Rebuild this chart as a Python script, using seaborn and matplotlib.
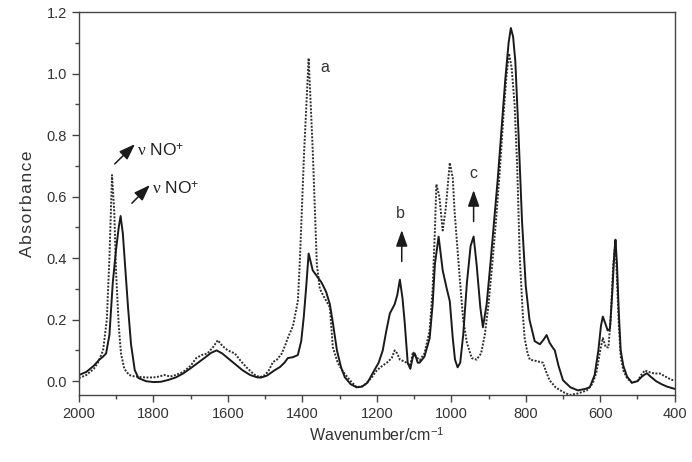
import numpy as np
import pandas as pd
import matplotlib
matplotlib.use("Agg")
import matplotlib.pyplot as plt
from matplotlib.ticker import MultipleLocator
import seaborn as sns

sns.set_style("ticks")
plt.rcParams['font.family'] = ['Liberation Sans', 'DejaVu Sans']
plt.rcParams['mathtext.fontset'] = 'custom'
plt.rcParams['mathtext.rm'] = 'Liberation Sans'
plt.rcParams['mathtext.it'] = 'Liberation Serif'

# solid spectrum (wavenumber, absorbance)
solid_wn = [2000, 1980, 1960, 1945, 1935, 1927, 1918, 1909, 1900, 1893, 1888, 1882,
            1875, 1868, 1860, 1850, 1840, 1820, 1800, 1780, 1760, 1740, 1720, 1700,
            1680, 1660, 1645, 1630, 1615, 1600, 1580, 1560, 1540, 1520, 1510, 1495,
            1475, 1460, 1448, 1439, 1425, 1412, 1403, 1396, 1390, 1383, 1372, 1360,
            1348, 1336, 1326, 1318, 1307, 1296, 1286, 1270, 1254, 1240, 1225, 1211,
            1195, 1184, 1175, 1165, 1152, 1145, 1138, 1131, 1125, 1117, 1110, 1103,
            1098, 1090, 1085, 1072, 1058, 1050, 1044, 1034, 1023, 1012, 1004, 996,
            990, 983, 976, 968, 958, 948, 940, 932, 922, 915, 905, 895, 885, 875,
            865, 855, 846, 840, 834, 828, 820, 810, 800, 790, 776, 762, 752, 744,
            736, 728, 722, 712, 700, 680, 660, 640, 628, 615, 605, 598, 593, 587,
            580, 574, 568, 562, 559, 555, 550, 545, 538, 528, 515, 500, 488, 475,
            465, 450, 435, 420, 400]
solid_abs = [0.02, 0.03, 0.05, 0.07, 0.08, 0.09, 0.15, 0.32, 0.43, 0.50, 0.537, 0.48,
             0.36, 0.24, 0.12, 0.036, 0.01, 0.0, -0.003, -0.002, 0.004, 0.012, 0.025, 0.042,
             0.06, 0.078, 0.092, 0.10, 0.09, 0.075, 0.055, 0.035, 0.02, 0.012, 0.012, 0.018,
             0.035, 0.046, 0.06, 0.075, 0.078, 0.085, 0.13, 0.21, 0.3, 0.415, 0.36, 0.34,
             0.32, 0.29, 0.25, 0.19, 0.10, 0.045, 0.013, -0.01, -0.02, -0.018, -0.005, 0.026,
             0.06, 0.10, 0.16, 0.22, 0.25, 0.28, 0.33, 0.27, 0.19, 0.06, 0.04, 0.08,
             0.09, 0.06, 0.06, 0.08, 0.14, 0.25, 0.38, 0.47, 0.36, 0.30, 0.26, 0.14,
             0.07, 0.045, 0.06, 0.15, 0.32, 0.44, 0.47, 0.38, 0.24, 0.175, 0.25, 0.38,
             0.52, 0.66, 0.82, 0.98, 1.10, 1.148, 1.12, 1.04, 0.82, 0.52, 0.31, 0.2,
             0.13, 0.12, 0.135, 0.15, 0.125, 0.11, 0.1, 0.05, 0.003, -0.02, -0.03, -0.025,
             -0.02, 0.02, 0.1, 0.18, 0.21, 0.19, 0.165, 0.17, 0.28, 0.42, 0.46, 0.38,
             0.22, 0.1, 0.05, 0.015, -0.005, 0.0, 0.015, 0.026, 0.015, 0.0, -0.01, -0.018,
             -0.025]

# dotted spectrum
dot_wn = [2000, 1980, 1960, 1949, 1935, 1925, 1918, 1911, 1905, 1900, 1893, 1887,
          1878, 1865, 1850, 1820, 1800, 1785, 1770, 1755, 1740, 1720, 1700, 1685,
          1670, 1655, 1640, 1627, 1615, 1600, 1581, 1565, 1550, 1530, 1514, 1500,
          1490, 1479, 1468, 1455, 1445, 1439, 1425, 1412, 1407, 1395, 1383, 1372,
          1361, 1353, 1340, 1326, 1318, 1305, 1290, 1270, 1254, 1235, 1215, 1200,
          1185, 1173, 1160, 1152, 1145, 1138, 1128, 1120, 1110, 1103, 1095, 1085,
          1072, 1058, 1050, 1044, 1040, 1032, 1023, 1015, 1004, 996, 991, 977,
          968, 958, 945, 932, 920, 910, 900, 890, 880, 870, 860, 852, 845,
          838, 830, 823, 816, 808, 803, 795, 789, 770, 754, 745, 736, 720,
          700, 682, 660, 636, 620, 610, 600, 593, 585, 578, 572, 565, 559,
          555, 550, 545, 538, 528, 515, 500, 490, 480, 470, 455, 440, 425,
          410, 400]
dot_abs = [0.01, 0.02, 0.04, 0.06, 0.1, 0.2, 0.4, 0.67, 0.55, 0.35, 0.18, 0.09,
           0.04, 0.02, 0.015, 0.012, 0.012, 0.015, 0.02, 0.015, 0.02, 0.03, 0.05, 0.075,
           0.085, 0.09, 0.11, 0.133, 0.115, 0.1, 0.09, 0.065, 0.045, 0.022, 0.013, 0.02,
           0.035, 0.062, 0.07, 0.09, 0.12, 0.14, 0.18, 0.26, 0.38, 0.75, 1.05, 0.75,
           0.38, 0.3, 0.27, 0.24, 0.11, 0.06, 0.03, 0.0, -0.02, -0.015, 0.01, 0.035,
           0.05, 0.06, 0.075, 0.1, 0.09, 0.07, 0.065, 0.06, 0.05, 0.095, 0.08, 0.068,
           0.09, 0.165, 0.3, 0.49, 0.64, 0.6, 0.49, 0.56, 0.71, 0.66, 0.55, 0.33,
           0.2, 0.125, 0.075, 0.07, 0.09, 0.15, 0.25, 0.38, 0.52, 0.68, 0.86, 0.99, 1.065,
           1.02, 0.9, 0.7, 0.4, 0.22, 0.14, 0.09, 0.07, 0.065, 0.06, 0.03, 0.003, -0.02,
           -0.035, -0.045, -0.04, -0.03, -0.007, 0.03, 0.1, 0.14, 0.11, 0.11, 0.2, 0.38, 0.45,
           0.33, 0.18, 0.08, 0.035, 0.01, -0.005, 0.0, 0.02, 0.035, 0.03, 0.025, 0.025, 0.015,
           0.005, 0.002]

df = pd.concat([
    pd.DataFrame({'wn': solid_wn, 'absorbance': solid_abs, 'sample': 'solid'}),
    pd.DataFrame({'wn': dot_wn, 'absorbance': dot_abs, 'sample': 'dotted'}),
])

fig = plt.figure(figsize=(6.92, 4.62), dpi=100)
ax = fig.add_axes([0.114, 0.145, 0.861, 0.829])

sns.lineplot(data=df[df['sample'] == 'dotted'], x='wn', y='absorbance', ax=ax,
             color='#2e2e2e', lw=1.4, linestyle=(0, (1, 0.8)), estimator=None, sort=False)
sns.lineplot(data=df[df['sample'] == 'solid'], x='wn', y='absorbance', ax=ax,
             color='#1a1a1a', lw=1.4, estimator=None, sort=False)

ax.set_xlim(2000, 400)
ax.set_ylim(-0.045, 1.2)
ax.xaxis.set_major_locator(MultipleLocator(200))
ax.xaxis.set_minor_locator(MultipleLocator(100))
ax.yaxis.set_major_locator(MultipleLocator(0.2))
ax.yaxis.set_minor_locator(MultipleLocator(0.1))
ax.yaxis.set_major_formatter(matplotlib.ticker.FormatStrFormatter('%.1f'))
ax.tick_params(which='major', direction='out', length=5, width=1, color='#444444',
               labelsize=10.5, labelcolor='#333333')
ax.tick_params(which='minor', direction='out', length=3, width=1, color='#444444')
for s in ax.spines.values():
    s.set_color('#444444')
    s.set_linewidth(1)

ax.set_xlabel('Wavenumber/cm$^{-1}$', fontsize=11.5, color='#333333', labelpad=4)
ax.set_ylabel('A b s o r b a n c e'.replace(' ', '\u200a'), fontsize=12.5,
              color='#333333', labelpad=8)

arrow = dict(arrowstyle='-|>,head_length=0.7,head_width=0.25', color='#1a1a1a',
             lw=1.1, mutation_scale=14)
ax.annotate('', xy=(1844, 0.777), xytext=(1909, 0.70), arrowprops=arrow)
ax.text(1843, 0.75, '$\\nu$ NO$^{+}$', fontsize=12.5, color='#222222', va='center', ha='left')
ax.annotate('', xy=(1804, 0.644), xytext=(1863, 0.572), arrowprops=arrow)
ax.text(1803, 0.625, '$\\nu$ NO$^{+}$', fontsize=12.5, color='#222222', va='center', ha='left')

ax.text(1340, 1.02, 'a', fontsize=11.5, color='#333333', ha='center', va='center')
ax.text(1138, 0.545, 'b', fontsize=11.5, color='#333333', ha='center', va='center')
ax.annotate('', xy=(1133, 0.50), xytext=(1133, 0.38), arrowprops=arrow)
ax.text(940, 0.675, 'c', fontsize=11.5, color='#333333', ha='center', va='center')
ax.annotate('', xy=(940, 0.63), xytext=(940, 0.51), arrowprops=arrow)

fig.savefig('out.png', dpi=100)
